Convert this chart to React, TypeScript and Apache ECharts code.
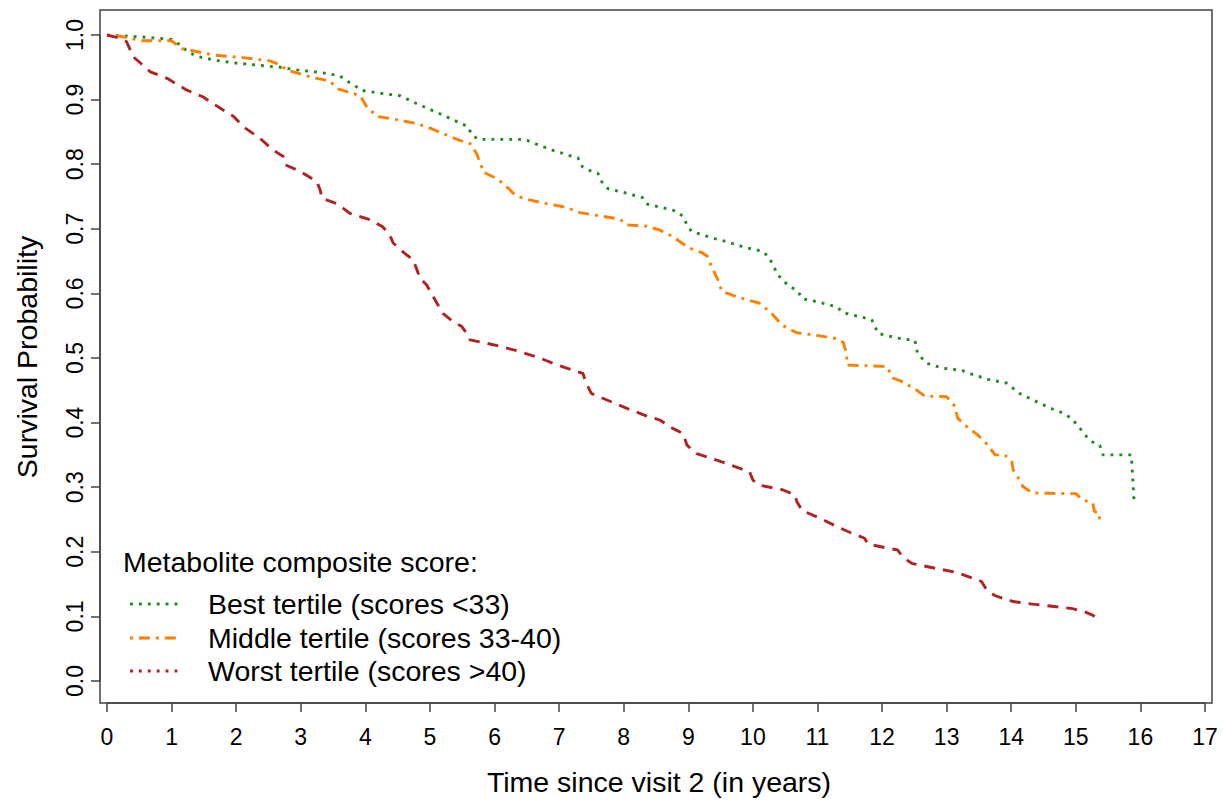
import React, { useEffect, useRef } from "react";
import * as echarts from "echarts";

const xTicks = [0, 17];
const yTicks = [0, 1];

const bestTimes = [0, 0.55, 1.0, 1.13, 1.25, 1.39, 1.67, 1.95, 2.26, 2.68, 2.94, 3.3, 3.6, 3.73, 3.96, 4.22, 4.54, 4.79, 5.2, 5.46, 5.59, 5.65, 5.75, 6.47, 6.6, 6.86, 7.14, 7.29, 7.36, 7.48, 7.6, 7.66, 7.76, 8.05, 8.3, 8.37, 8.67, 8.82, 8.92, 8.98, 9.05, 9.33, 9.6, 9.88, 10.16, 10.26, 10.39, 10.54, 10.7, 10.76, 11.04, 11.3, 11.4, 11.7, 11.84, 11.94, 12.23, 12.51, 12.55, 12.69, 12.94, 13.23, 13.36, 13.64, 13.93, 14.03, 14.13, 14.4, 14.64, 14.8, 14.91, 15.01, 15.17, 15.26, 15.37, 15.42, 15.86, 15.9, 15.96];
const bestProb = [1.0, 0.997, 0.993, 0.985, 0.974, 0.967, 0.961, 0.957, 0.954, 0.95, 0.946, 0.942, 0.937, 0.928, 0.914, 0.91, 0.906, 0.894, 0.876, 0.864, 0.858, 0.845, 0.8385, 0.8385, 0.833, 0.823, 0.814, 0.81, 0.796, 0.79, 0.786, 0.773, 0.762, 0.755, 0.748, 0.738, 0.731, 0.727, 0.719, 0.706, 0.696, 0.687, 0.68, 0.671, 0.665, 0.654, 0.628, 0.613, 0.603, 0.592, 0.586, 0.579, 0.57, 0.563, 0.559, 0.538, 0.531, 0.527, 0.507, 0.492, 0.484, 0.481, 0.476, 0.467, 0.461, 0.453, 0.445, 0.432, 0.421, 0.415, 0.408, 0.398, 0.378, 0.37, 0.365, 0.35, 0.35, 0.28, 0.279];

const middleTimes = [0, 0.2, 0.45, 0.56, 1.0, 1.16, 1.31, 1.65, 2.1, 2.52, 2.68, 2.78, 3.19, 3.45, 3.56, 3.73, 3.92, 4.02, 4.18, 4.54, 4.74, 4.95, 5.26, 5.46, 5.62, 5.72, 5.8, 5.82, 6.03, 6.16, 6.29, 6.44, 6.75, 7.12, 7.32, 7.63, 7.94, 8.05, 8.36, 8.56, 8.76, 8.87, 9.02, 9.21, 9.3, 9.37, 9.46, 9.52, 9.75, 9.95, 10.1, 10.29, 10.45, 10.68, 10.99, 11.3, 11.4, 11.45, 11.46, 12.07, 12.17, 12.32, 12.54, 12.66, 13.0, 13.13, 13.17, 13.31, 13.48, 13.64, 13.75, 13.9, 14.01, 14.03, 14.1, 14.18, 14.33, 15.0, 15.11, 15.26, 15.29, 15.36, 15.37];
const middleProb = [1.0, 0.998, 0.993, 0.991, 0.991, 0.979, 0.976, 0.969, 0.965, 0.96, 0.954, 0.946, 0.934, 0.929, 0.917, 0.912, 0.906, 0.889, 0.874, 0.868, 0.864, 0.858, 0.845, 0.837, 0.832, 0.817, 0.796, 0.788, 0.778, 0.768, 0.755, 0.747, 0.74, 0.733, 0.725, 0.72, 0.715, 0.706, 0.704, 0.698, 0.688, 0.68, 0.67, 0.663, 0.657, 0.639, 0.621, 0.603, 0.595, 0.589, 0.585, 0.569, 0.551, 0.539, 0.535, 0.53, 0.524, 0.507, 0.489, 0.487, 0.469, 0.463, 0.45, 0.441, 0.44, 0.425, 0.407, 0.394, 0.381, 0.365, 0.35, 0.35, 0.339, 0.327, 0.316, 0.301, 0.291, 0.29, 0.28, 0.276, 0.262, 0.261, 0.244];

const worstTimes = [0, 0.2, 0.3, 0.41, 0.49, 0.67, 0.93, 1.23, 1.49, 1.67, 1.96, 2.11, 2.37, 2.57, 2.73, 2.76, 2.99, 3.25, 3.3, 3.33, 3.56, 3.76, 4.07, 4.27, 4.38, 4.43, 4.61, 4.74, 4.85, 4.95, 5.05, 5.2, 5.36, 5.49, 5.57, 5.62, 5.82, 6.13, 6.39, 6.7, 6.9, 7.21, 7.37, 7.41, 7.5, 7.74, 8.05, 8.36, 8.56, 8.76, 8.92, 8.98, 9.13, 9.44, 9.8, 9.95, 10.0, 10.11, 10.46, 10.65, 10.68, 10.76, 11.04, 11.3, 11.55, 11.73, 11.78, 12.12, 12.24, 12.32, 12.46, 12.85, 13.16, 13.41, 13.54, 13.62, 13.75, 14.03, 14.33, 14.7, 14.95, 15.14, 15.26, 15.39];
const worstProb = [1.0, 0.995, 0.99, 0.966, 0.959, 0.943, 0.933, 0.915, 0.904, 0.892, 0.874, 0.858, 0.84, 0.822, 0.812, 0.799, 0.789, 0.773, 0.76, 0.747, 0.739, 0.724, 0.714, 0.703, 0.69, 0.678, 0.662, 0.652, 0.623, 0.613, 0.595, 0.569, 0.556, 0.549, 0.538, 0.528, 0.524, 0.517, 0.51, 0.5, 0.492, 0.481, 0.476, 0.463, 0.445, 0.435, 0.422, 0.41, 0.404, 0.391, 0.383, 0.365, 0.352, 0.342, 0.329, 0.324, 0.311, 0.303, 0.296, 0.288, 0.278, 0.264, 0.252, 0.239, 0.228, 0.221, 0.212, 0.205, 0.203, 0.192, 0.182, 0.174, 0.168, 0.159, 0.154, 0.141, 0.132, 0.123, 0.119, 0.115, 0.112, 0.107, 0.102, 0.092];

const legendTitle = "Metabolite composite score:";
const seriesNames = ["Best tertile (scores <33)", "Middle tertile (scores 33-40)", "Worst tertile (scores >40)"];
const xTitle = "Time since visit 2 (in years)";
const yTitle = "Survival Probability";

const GREEN = "#228B22";
const ORANGE = "#FF7F00";
const RED = "#B22222";
const AXIS = "#444444";
const FONT = "'Liberation Sans', Arial, sans-serif";

const zip = (t: number[], p: number[]) => t.map((v, i) => [v, p[i]]);

export default function App() {
  const ref = useRef<HTMLDivElement>(null);
  useEffect(() => {
    if (!ref.current) return;
    const chart = echarts.init(ref.current, null, { renderer: "svg" });
    const lineW = 2.9;
    const legendY = [604, 638, 671];
    const dotDash = [2.9, 6];
    const dashDot = [2.9, 6, 11, 6];
    const legendStyles = [
      { color: GREEN, dash: dotDash },
      { color: ORANGE, dash: dashDot },
      { color: RED, dash: dotDash },
    ];
    const graphics: any[] = [
      {
        type: "rect",
        shape: { x: 100, y: 10, width: 1112, height: 693 },
        style: { fill: "none", stroke: AXIS, lineWidth: 1.5 },
        silent: true,
      },
      {
        type: "text",
        x: 123,
        y: 562,
        style: { text: legendTitle, font: `28.5px ${FONT}`, fill: "#000", textVerticalAlign: "middle", textAlign: "left" },
      },
      {
        type: "text",
        x: 659,
        y: 782,
        style: { text: xTitle, font: `28.5px ${FONT}`, fill: "#000", textVerticalAlign: "middle", textAlign: "center" },
      },
      {
        type: "text",
        x: 27,
        y: 357,
        rotation: Math.PI / 2,
        style: { text: yTitle, font: `28.5px ${FONT}`, fill: "#000", textVerticalAlign: "middle", textAlign: "center" },
      },
    ];
    seriesNames.forEach((name, i) => {
      graphics.push({
        type: "line",
        shape: { x1: 130, y1: legendY[i], x2: 181, y2: legendY[i] },
        style: { stroke: legendStyles[i].color, lineWidth: lineW, lineDash: legendStyles[i].dash },
      });
      graphics.push({
        type: "text",
        x: 208,
        y: legendY[i],
        style: { text: name, font: `28.5px ${FONT}`, fill: "#000", textVerticalAlign: "middle", textAlign: "left" },
      });
    });

    const mk = (name: string, data: number[][], color: string, dash: number[]) => ({
      name,
      type: "line",
      data,
      showSymbol: false,
      symbol: "none",
      lineStyle: { color, width: lineW, type: dash, cap: "butt" },
      z: 3,
    });

    chart.setOption({
      animation: false,
      backgroundColor: "#fff",
      grid: { left: 107, right: 18, top: 35, bottom: 124, containLabel: false },
      xAxis: {
        type: "value",
        min: xTicks[0],
        max: xTicks[1],
        interval: 1,
        offset: 22,
        axisLine: { show: true, onZero: false, lineStyle: { color: AXIS, width: 1.5 } },
        axisTick: { show: true, length: 9, lineStyle: { color: AXIS, width: 1.5 } },
        axisLabel: { fontSize: 23, color: "#000", fontFamily: FONT, margin: 22 },
        splitLine: { show: false },
      },
      yAxis: {
        type: "value",
        min: yTicks[0],
        max: yTicks[1],
        interval: 0.1,
        offset: 7,
        axisLine: { show: true, onZero: false, lineStyle: { color: AXIS, width: 1.5 } },
        axisTick: { show: true, length: 9, lineStyle: { color: AXIS, width: 1.5 } },
        axisLabel: {
          fontSize: 23,
          color: "#000",
          fontFamily: FONT,
          rotate: 90,
          margin: 14,
          formatter: (v: number) => v.toFixed(1),
        },
        splitLine: { show: false },
      },
      series: [
        mk(seriesNames[0], zip(bestTimes, bestProb), GREEN, dotDash),
        mk(seriesNames[1], zip(middleTimes, middleProb), ORANGE, dashDot),
        mk(seriesNames[2], zip(worstTimes, worstProb), RED, [11, 8]),
      ],
      graphic: graphics,
    });
    return () => chart.dispose();
  }, []);
  return <div ref={ref} style={{ position: "fixed", left: 0, top: 0, width: 1223, height: 805, background: "#fff" }} />;
}
